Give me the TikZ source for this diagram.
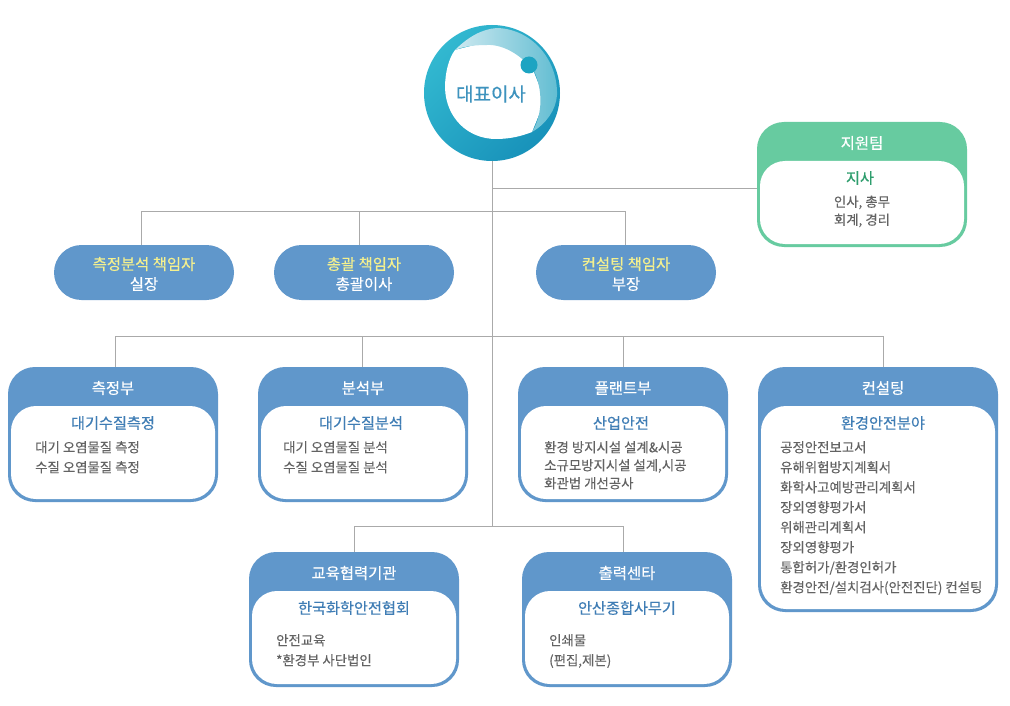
\documentclass[tikz,border=0pt]{standalone}
\usepackage{fontspec}
\setmainfont{Noto Sans CJK KR}
\newfontfamily\medf[FakeBold=0.45]{Noto Sans CJK KR}
\newfontfamily\bodyf[FakeBold=0.12]{Noto Sans CJK KR}
\definecolor{blueb}{HTML}{6097CB}
\definecolor{greenb}{HTML}{67CBA0}
\definecolor{subblue}{HTML}{3F7DB5}
\definecolor{subgreen}{HTML}{2F9E6E}
\definecolor{bodyc}{HTML}{636363}
\definecolor{linec}{HTML}{AAAAAA}
\definecolor{ceotext}{HTML}{3E93BE}
\definecolor{pillyellow}{HTML}{F4F08E}
\definecolor{ringa}{HTML}{32B8D0}
\definecolor{ringb}{HTML}{1892BA}
\definecolor{cresca}{HTML}{CDE9F0}
\definecolor{crescb}{HTML}{62BDD2}
\definecolor{dotc}{HTML}{1CA4C2}
\tikzset{
  conn/.style={draw=linec,line width=1pt},
  titletext/.style={text=white,font=\medf\fontsize{15.4}{18}\selectfont,inner sep=0pt},
  subtext/.style={font=\medf\fontsize{15.2}{18}\selectfont,inner sep=0pt},
  bodytext/.style={text=bodyc,font=\bodyf\fontsize{13.4}{#1}\selectfont,align=left,anchor=north west,inner sep=0pt,text depth=0pt},
  bodycentre/.style={text=bodyc,font=\bodyf\fontsize{13.4}{18}\selectfont,align=center,inner sep=0pt},
  pill/.style={fill=blueb,rounded corners=27.5pt,minimum width=180pt,minimum height=55pt,inner sep=0pt,outer sep=0pt},
  pilltext/.style={align=center,text=white,inner sep=0pt,font=\medf\fontsize{15.4}{20}\selectfont},
}
\def\tshift{0}\def\sshift{0}
% id x0 y0 x1 y1 colour subcolour title subtitle
\newcommand{\orgbox}[9]{%
  \node[fill=#6,rounded corners=27pt,inner sep=0pt,outer sep=0pt,minimum width={(#4-#2)*1pt},minimum height={(#5-#3)*1pt}]
     (#1) at ({(#2+#4)/2},{(#3+#5)/2}) {};
  \node[fill=white,rounded corners=25pt,inner sep=0pt,outer sep=0pt,minimum width={(#4-#2-6)*1pt},minimum height={(#5-#3-42)*1pt}]
     (#1in) at ({(#2+#4)/2},{(#3+#5)/2+18}) {};
  \node[titletext] (#1title) at ({(#2+#4)/2+\tshift},{#3+21}) {#8};
  \node[subtext,text=#7] (#1sub) at ({(#2+#4)/2+\tshift+\sshift},{#3+56}) {#9};
}
\begin{document}
\begin{tikzpicture}[x=1pt,y=-1pt]
\useasboundingbox (0,0) rectangle (1010,706);
\fill[white] (0,0) rectangle (1010,706);

% CEO emblem
\node[circle,minimum size=136pt,inner sep=0pt,outer sep=0pt] (ceo) at (492,93) {};
\shade[left color=ringa,right color=ringb,shading angle=45] (ceo.center) circle (68pt);
\fill[white] (455,50) .. controls (449,58) and (445,72) .. (445,88)
  .. controls (446,118) and (468,139) .. (496,139)
  .. controls (510,139) and (522,136) .. (532,132)
  -- (545,100) -- (525,50) -- (487,42) -- cycle;
\shade[left color=cresca,right color=crescb]
  (455,50) .. controls (468,37) and (482,29) .. (497,28)
  .. controls (532,29) and (558,60) .. (557,95)
  .. controls (556,110) and (546,124) .. (532,132)
  .. controls (541,118) and (544,95) .. (535,73)
  .. controls (525,58) and (505,44) .. (487,45)
  .. controls (472,45) and (462,47) .. (455,50) -- cycle;
\fill[dotc] (529,65) circle (8.5pt);
\node[text=ceotext,font=\medf\fontsize{19}{22}\selectfont,inner sep=0pt] (ceotxt) at (491,94) {대표이사};

% Boxes
\def\sshift{-2}
\orgbox{support}{757}{122}{967}{247}{greenb}{subgreen}{지원팀}{지사}
\def\sshift{0}
\node[bodycentre] (supportbody) at (862,211.5) {인사, 총무\\회계, 경리};

\node[pill] (pa) at (144,272.5) {};
\node[pilltext] (patext) at (144,274) {\textcolor{pillyellow}{측정분석 책임자}\\실장};
\node[pill] (pb) at (364,272.5) {};
\node[pilltext] (pbtext) at (364,274) {\textcolor{pillyellow}{총괄 책임자}\\총괄이사};
\node[pill] (pc) at (626,272.5) {};
\node[pilltext] (pctext) at (626,274) {\textcolor{pillyellow}{컨설팅 책임자}\\부장};

\orgbox{measure}{8}{367}{218}{502}{blueb}{subblue}{측정부}{대기수질측정}
\node[bodytext=20pt] (measurebody) at (35,441) {대기 오염물질 측정\\수질 오염물질 측정};
\def\sshift{-2}
\orgbox{analysis}{258}{367}{468}{502}{blueb}{subblue}{분석부}{대기수질분석}
\node[bodytext=20pt] (analysisbody) at (283,441) {대기 오염물질 분석\\수질 오염물질 분석};
\orgbox{plant}{518}{367}{728}{502}{blueb}{subblue}{플랜트부}{산업안전}
\def\sshift{0}
\node[bodytext=18pt] (plantbody) at (544,441) {환경 방지시설 설계\&시공\\소규모방지시설 설계,시공\\화관법 개선공사};
\def\tshift{5}
\orgbox{consult}{758}{367}{998}{612}{blueb}{subblue}{컨설팅}{환경안전분야}
\def\tshift{0}
\node[bodytext=20pt] (consultbody) at (780,441) {공정안전보고서\\유해위험방지계획서\\화학사고예방관리계획서\\장외영향평가서\\위해관리계획서\\장외영향평가\\통합허가/환경인허가\\환경안전/설치검사(안전진단) 컨설팅};
\orgbox{edu}{249}{552}{459}{687}{blueb}{subblue}{교육협력기관}{한국화학안전협회}
\node[bodytext=20pt] (edubody) at (276,634) {안전교육\\*환경부 사단법인};
\orgbox{print}{522}{552}{732}{687}{blueb}{subblue}{출력센타}{안산종합사무기}
\node[bodytext=20pt] (printbody) at (549,634) {인쇄물\\(편집,제본)};

% Connectors
\coordinate (bus0) at (492.5,188.5);
\coordinate (bus1) at (492.5,211.5);
\coordinate (bus2) at (492.5,336.5);
\coordinate (bus3) at (492.5,526.5);
\draw[conn] ([xshift=.5pt]ceo.south) -- (bus3);
\draw[conn] (bus0) -- (support.west |- bus0);
\draw[conn] ([xshift=-2.5pt]pa.north) |- (bus1);
\draw[conn] ([xshift=-4.5pt]pb.north) |- (bus1);
\draw[conn] ([xshift=-.5pt]pc.north) |- (bus1);
\draw[conn] ([xshift=2.5pt]measure.north) |- (bus2);
\draw[conn] ([xshift=-.5pt]analysis.north) |- (bus2);
\draw[conn] ([xshift=.5pt]plant.north) |- (bus2);
\draw[conn] ([xshift=5.5pt]consult.north) |- (bus2);
\draw[conn] ([xshift=.5pt]edu.north) |- (bus3);
\draw[conn] ([xshift=-3.5pt]print.north) |- (bus3);
\end{tikzpicture}
\end{document}
